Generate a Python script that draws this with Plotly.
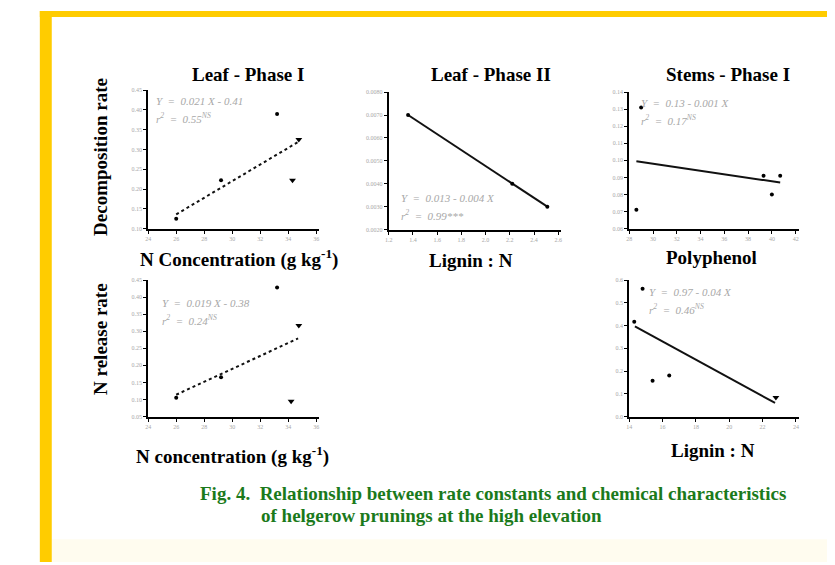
import plotly.graph_objects as go

# ---- data ----
# Leaf - Phase I : decomposition rate vs N concentration
leaf1_x_dot = [26.0, 29.2, 33.2]
leaf1_y_dot = [0.125, 0.222, 0.390]
leaf1_x_tri = [34.3, 34.75]
leaf1_y_tri = [0.222, 0.325]
leaf1_fit_x = [26.0, 34.8]
leaf1_fit_y = [0.136, 0.321]

# Leaf - Phase II : decomposition rate vs lignin:N
leaf2_x_dot = [1.36, 2.22, 2.51]
leaf2_y_dot = [0.0070, 0.0040, 0.0030]
leaf2_fit_x = [1.36, 2.51]
leaf2_fit_y = [0.0070, 0.0030]

# Stems - Phase I : decomposition rate vs polyphenol
stem_x_dot = [28.6, 29.0, 39.3, 40.0, 40.7]
stem_y_dot = [0.071, 0.131, 0.091, 0.080, 0.091]
stem_fit_x = [28.6, 40.7]
stem_fit_y = [0.0995, 0.0870]

# N release rate vs N concentration
nrel_x_dot = [26.0, 29.2, 33.2]
nrel_y_dot = [0.105, 0.165, 0.428]
nrel_x_tri = [34.2, 34.75]
nrel_y_tri = [0.095, 0.317]
nrel_fit_x = [26.0, 34.7]
nrel_fit_y = [0.114, 0.279]

# N release rate vs lignin:N
lign_x_dot = [14.3, 14.8, 15.4, 16.4]
lign_y_dot = [0.417, 0.562, 0.157, 0.181]
lign_x_tri = [22.8]
lign_y_tri = [0.084]
lign_fit_x = [14.34, 22.75]
lign_fit_y = [0.396, 0.060]

# page is 835x565, the browser body keeps an 8px margin
W, H, O = 835, 565, 8
FW, FH = W - O, H - O


def px(x):
    return (x - O) / FW


def py(y):
    return 1 - (y - O) / FH


fig = go.Figure()

panels = [
    # axis suffix, x pixel span, y pixel span, x range, dtick, y range, dtick, y format
    ("", (145, 317), (88, 228), [24, 36.2], 2, [0.10, 0.45], 0.05, ".2f", ".0f"),
    ("2", (387, 560), (90, 229), [1.2, 2.62], 0.2, [0.002, 0.008], 0.001, ".4f", ".1f"),
    ("3", (629, 800), (90, 228), [28, 42.3], 2, [0.06, 0.14], 0.01, ".2f", ".0f"),
    ("4", (145, 317), (280, 418), [24, 36.2], 2, [0.05, 0.45], 0.05, ".2f", ".0f"),
    ("5", (629, 800), (280, 418), [14, 24.2], 2, [0.0, 0.6], 0.1, ".1f", ".0f"),
]

axis_font = dict(family="Liberation Serif", size=6, color="#a8a8a8")
for suf, xs, ys, xr, xd, yr, yd, yfmt, xfmt in panels:
    fig.layout["xaxis" + suf] = dict(
        domain=[px(xs[0]), px(xs[1])], range=xr, dtick=xd, tick0=xr[0],
        anchor="y" + suf, showline=True, linecolor="black", linewidth=2,
        ticks="outside", ticklen=3, tickcolor="black", showgrid=False,
        zeroline=False, tickfont=axis_font, tickformat=xfmt,
    )
    fig.layout["yaxis" + suf] = dict(
        domain=[py(ys[1]), py(ys[0])], range=yr, dtick=yd, tick0=yr[0],
        anchor="x" + suf, showline=True, linecolor="black", linewidth=2,
        ticks="outside", ticklen=3, tickcolor="black", showgrid=False,
        zeroline=False, tickfont=axis_font, tickformat=yfmt,
    )


def add_panel(suf, xd, yd, xt, yt, fx, fy, dash):
    ax = dict(xaxis="x" + suf, yaxis="y" + suf)
    fig.add_trace(go.Scatter(x=fx, y=fy, mode="lines",
                             line=dict(color="#111", width=2, dash=dash), **ax))
    fig.add_trace(go.Scatter(x=xd, y=yd, mode="markers",
                             marker=dict(color="black", size=4), **ax))
    if xt:
        fig.add_trace(go.Scatter(x=xt, y=yt, mode="markers",
                                 marker=dict(color="black", size=6,
                                             symbol="triangle-down"), **ax))


add_panel("", leaf1_x_dot, leaf1_y_dot, leaf1_x_tri, leaf1_y_tri,
          leaf1_fit_x, leaf1_fit_y, "dot")
add_panel("2", leaf2_x_dot, leaf2_y_dot, None, None,
          leaf2_fit_x, leaf2_fit_y, "solid")
add_panel("3", stem_x_dot, stem_y_dot, None, None,
          stem_fit_x, stem_fit_y, "solid")
add_panel("4", nrel_x_dot, nrel_y_dot, nrel_x_tri, nrel_y_tri,
          nrel_fit_x, nrel_fit_y, "dot")
add_panel("5", lign_x_dot, lign_y_dot, lign_x_tri, lign_y_tri,
          lign_fit_x, lign_fit_y, "solid")

serif = "Liberation Serif, Times New Roman, serif"
bold = dict(family=serif, size=19, color="black")
eqf = dict(family=serif, size=11, color="#a8a8a8")
anns = []


def text(x, y, s, font, angle=0, xanchor="center"):
    anns.append(dict(x=px(x), y=py(y), xref="paper", yref="paper", text=s,
                     showarrow=False, font=font, textangle=angle,
                     xanchor=xanchor, yanchor="middle"))


# panel titles
text(245, 72, "<b>Leaf - Phase I</b>", bold)
text(490, 72, "<b>Leaf - Phase II</b>", bold)
text(728, 72, "<b>Stems - Phase I</b>", bold)

# axis titles
text(236, 258, "<b>N Concentration (g kg<sup>-1</sup>)</b>", bold)
text(470, 260, "<b>Lignin : N</b>", bold)
text(712, 257, "<b>Polyphenol</b>", bold)
text(230, 457, "<b>N concentration (g kg<sup>-1</sup>)</b>", bold)
text(713, 452, "<b>Lignin : N</b>", bold)
text(97, 155, "<b>Decomposition rate</b>", bold, angle=-90)
text(97, 340, "<b>N release rate</b>", bold, angle=-90)

# regression equations
text(151, 99, "<i>Y  =  0.021 X - 0.41</i>", eqf, xanchor="left")
text(151, 116, "<i>r<sup>2</sup>  =  0.55<sup>NS</sup></i>", eqf, xanchor="left")
text(397, 197, "<i>Y  =  0.013 - 0.004 X</i>", eqf, xanchor="left")
text(397, 214, "<i>r<sup>2</sup>  =  0.99***</i>", eqf, xanchor="left")
text(639, 101, "<i>Y  =  0.13 - 0.001 X</i>", eqf, xanchor="left")
text(639, 118, "<i>r<sup>2</sup>  =  0.17<sup>NS</sup></i>", eqf, xanchor="left")
text(157, 303, "<i>Y  =  0.019 X - 0.38</i>", eqf, xanchor="left")
text(157, 320, "<i>r<sup>2</sup>  =  0.24<sup>NS</sup></i>", eqf, xanchor="left")
text(647, 292, "<i>Y  =  0.97 - 0.04 X</i>", eqf, xanchor="left")
text(647, 309, "<i>r<sup>2</sup>  =  0.46<sup>NS</sup></i>", eqf, xanchor="left")

# caption
capf = dict(family=serif, size=19, color="#1b7a1b")
text(195, 496, "<b>Fig. 4.  Relationship between rate constants and chemical characteristics</b>",
     capf, xanchor="left")
text(256, 518, "<b>of helgerow prunings at the high elevation</b>", capf, xanchor="left")

shapes = [
    dict(type="rect", xref="paper", yref="paper", x0=px(48), x1=1,
         y0=0, y1=py(542), fillcolor="#fffcef", line_width=0, layer="below"),
    dict(type="rect", xref="paper", yref="paper", x0=px(36), x1=px(48),
         y0=0, y1=1, fillcolor="#ffcc00", line_width=0),
    dict(type="rect", xref="paper", yref="paper", x0=px(36), x1=1,
         y0=py(14), y1=1, fillcolor="#ffcc00", line_width=0),
]

fig.update_layout(
    width=FW, height=FH, margin=dict(l=0, r=0, t=0, b=0),
    paper_bgcolor="white", plot_bgcolor="rgba(0,0,0,0)",
    showlegend=False, annotations=anns, shapes=shapes,
)

fig.write_html("out.html")
